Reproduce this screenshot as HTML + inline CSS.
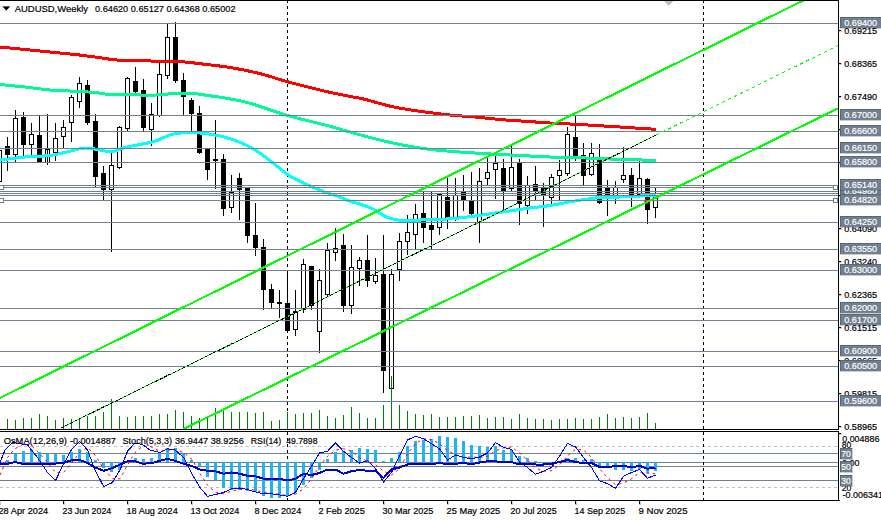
<!DOCTYPE html><html><head><meta charset="utf-8"><title>AUDUSD Weekly</title>
<style>html,body{margin:0;padding:0;background:#fff;}svg{display:block;font-family:"Liberation Sans",sans-serif;}</style></head><body>
<svg width="881" height="522" viewBox="0 0 881 522">
<rect width="881" height="522" fill="#fff"/>
<defs><clipPath id="cm"><rect x="0" y="1" width="838" height="428"/></clipPath><clipPath id="ci"><rect x="0" y="432" width="838" height="68"/></clipPath></defs>
<g clip-path="url(#cm)">
<g shape-rendering="crispEdges" stroke="#000" stroke-width="1" stroke-dasharray="3 3">
<line x1="287.5" y1="0" x2="287.5" y2="429"/>
<line x1="703.5" y1="0" x2="703.5" y2="429"/>
</g>
<g shape-rendering="crispEdges">
<rect x="-1" y="150" width="1" height="32" fill="#000"/>
<rect x="-3" y="150" width="5" height="32" fill="#000"/>
<rect x="-2" y="151" width="3" height="30" fill="#fff"/>
<rect x="7" y="137" width="1" height="34" fill="#000"/>
<rect x="5" y="146" width="5" height="9" fill="#000"/>
<rect x="15" y="110" width="1" height="53" fill="#000"/>
<rect x="13" y="118" width="5" height="37" fill="#000"/>
<rect x="14" y="119" width="3" height="35" fill="#fff"/>
<rect x="23" y="112" width="1" height="45" fill="#000"/>
<rect x="21" y="117" width="5" height="28" fill="#000"/>
<rect x="31" y="123" width="1" height="33" fill="#000"/>
<rect x="29" y="134" width="5" height="11" fill="#000"/>
<rect x="30" y="135" width="3" height="9" fill="#fff"/>
<rect x="39" y="116" width="1" height="47" fill="#000"/>
<rect x="37" y="135" width="5" height="28" fill="#000"/>
<rect x="47" y="114" width="1" height="51" fill="#000"/>
<rect x="45" y="149" width="5" height="14" fill="#000"/>
<rect x="46" y="150" width="3" height="12" fill="#fff"/>
<rect x="47" y="114" width="1" height="51" fill="#000"/>
<rect x="55" y="123" width="1" height="38" fill="#000"/>
<rect x="53" y="138" width="5" height="15" fill="#000"/>
<rect x="54" y="139" width="3" height="13" fill="#fff"/>
<rect x="63" y="120" width="1" height="28" fill="#000"/>
<rect x="61" y="127" width="5" height="10" fill="#000"/>
<rect x="62" y="128" width="3" height="8" fill="#fff"/>
<rect x="71" y="95" width="1" height="47" fill="#000"/>
<rect x="69" y="97" width="5" height="26" fill="#000"/>
<rect x="70" y="98" width="3" height="24" fill="#fff"/>
<rect x="79" y="77" width="1" height="31" fill="#000"/>
<rect x="77" y="83" width="5" height="19" fill="#000"/>
<rect x="78" y="84" width="3" height="17" fill="#fff"/>
<rect x="87" y="80" width="1" height="45" fill="#000"/>
<rect x="85" y="85" width="5" height="38" fill="#000"/>
<rect x="95" y="114" width="1" height="74" fill="#000"/>
<rect x="93" y="121" width="5" height="56" fill="#000"/>
<rect x="103" y="166" width="1" height="35" fill="#000"/>
<rect x="101" y="173" width="5" height="17" fill="#000"/>
<rect x="111" y="152" width="1" height="100" fill="#000"/>
<rect x="109" y="165" width="5" height="25" fill="#000"/>
<rect x="110" y="166" width="3" height="23" fill="#fff"/>
<rect x="119" y="126" width="1" height="43" fill="#000"/>
<rect x="117" y="127" width="5" height="41" fill="#000"/>
<rect x="118" y="128" width="3" height="39" fill="#fff"/>
<rect x="127" y="77" width="1" height="54" fill="#000"/>
<rect x="125" y="78" width="5" height="51" fill="#000"/>
<rect x="126" y="79" width="3" height="49" fill="#fff"/>
<rect x="135" y="67" width="1" height="27" fill="#000"/>
<rect x="133" y="81" width="5" height="11" fill="#000"/>
<rect x="143" y="79" width="1" height="52" fill="#000"/>
<rect x="141" y="90" width="5" height="38" fill="#000"/>
<rect x="151" y="103" width="1" height="43" fill="#000"/>
<rect x="149" y="114" width="5" height="16" fill="#000"/>
<rect x="150" y="115" width="3" height="14" fill="#fff"/>
<rect x="159" y="62" width="1" height="55" fill="#000"/>
<rect x="157" y="74" width="5" height="42" fill="#000"/>
<rect x="158" y="75" width="3" height="40" fill="#fff"/>
<rect x="167" y="24" width="1" height="55" fill="#000"/>
<rect x="165" y="37" width="5" height="39" fill="#000"/>
<rect x="166" y="38" width="3" height="37" fill="#fff"/>
<rect x="175" y="22" width="1" height="61" fill="#000"/>
<rect x="173" y="37" width="5" height="44" fill="#000"/>
<rect x="183" y="73" width="1" height="43" fill="#000"/>
<rect x="181" y="80" width="5" height="17" fill="#000"/>
<rect x="191" y="98" width="1" height="34" fill="#000"/>
<rect x="189" y="100" width="5" height="14" fill="#000"/>
<rect x="199" y="106" width="1" height="48" fill="#000"/>
<rect x="197" y="113" width="5" height="40" fill="#000"/>
<rect x="207" y="149" width="1" height="31" fill="#000"/>
<rect x="205" y="149" width="5" height="21" fill="#000"/>
<rect x="215" y="120" width="1" height="69" fill="#000"/>
<rect x="213" y="159" width="5" height="2" fill="#000"/>
<rect x="223" y="154" width="1" height="62" fill="#000"/>
<rect x="221" y="159" width="5" height="50" fill="#000"/>
<rect x="231" y="175" width="1" height="38" fill="#000"/>
<rect x="229" y="192" width="5" height="16" fill="#000"/>
<rect x="230" y="193" width="3" height="14" fill="#fff"/>
<rect x="239" y="173" width="1" height="47" fill="#000"/>
<rect x="237" y="178" width="5" height="12" fill="#000"/>
<rect x="247" y="188" width="1" height="55" fill="#000"/>
<rect x="245" y="188" width="5" height="48" fill="#000"/>
<rect x="255" y="203" width="1" height="53" fill="#000"/>
<rect x="253" y="235" width="5" height="13" fill="#000"/>
<rect x="263" y="239" width="1" height="71" fill="#000"/>
<rect x="261" y="247" width="5" height="43" fill="#000"/>
<rect x="271" y="284" width="1" height="24" fill="#000"/>
<rect x="269" y="289" width="5" height="14" fill="#000"/>
<rect x="279" y="290" width="1" height="28" fill="#000"/>
<rect x="277" y="302" width="5" height="2" fill="#000"/>
<rect x="287" y="271" width="1" height="62" fill="#000"/>
<rect x="285" y="303" width="5" height="28" fill="#000"/>
<rect x="295" y="290" width="1" height="46" fill="#000"/>
<rect x="293" y="311" width="5" height="19" fill="#000"/>
<rect x="294" y="312" width="3" height="17" fill="#fff"/>
<rect x="303" y="259" width="1" height="54" fill="#000"/>
<rect x="301" y="264" width="5" height="46" fill="#000"/>
<rect x="302" y="265" width="3" height="44" fill="#fff"/>
<rect x="311" y="266" width="1" height="44" fill="#000"/>
<rect x="309" y="266" width="5" height="40" fill="#000"/>
<rect x="319" y="269" width="1" height="84" fill="#000"/>
<rect x="317" y="280" width="5" height="52" fill="#000"/>
<rect x="318" y="281" width="3" height="50" fill="#fff"/>
<rect x="327" y="243" width="1" height="54" fill="#000"/>
<rect x="325" y="250" width="5" height="45" fill="#000"/>
<rect x="326" y="251" width="3" height="43" fill="#fff"/>
<rect x="335" y="228" width="1" height="33" fill="#000"/>
<rect x="333" y="248" width="5" height="5" fill="#000"/>
<rect x="334" y="249" width="3" height="3" fill="#fff"/>
<rect x="343" y="234" width="1" height="78" fill="#000"/>
<rect x="341" y="245" width="5" height="61" fill="#000"/>
<rect x="351" y="245" width="1" height="69" fill="#000"/>
<rect x="349" y="267" width="5" height="39" fill="#000"/>
<rect x="350" y="268" width="3" height="37" fill="#fff"/>
<rect x="359" y="257" width="1" height="29" fill="#000"/>
<rect x="357" y="260" width="5" height="9" fill="#000"/>
<rect x="358" y="261" width="3" height="7" fill="#fff"/>
<rect x="367" y="235" width="1" height="52" fill="#000"/>
<rect x="365" y="260" width="5" height="21" fill="#000"/>
<rect x="375" y="258" width="1" height="26" fill="#000"/>
<rect x="373" y="275" width="5" height="7" fill="#000"/>
<rect x="374" y="276" width="3" height="5" fill="#fff"/>
<rect x="383" y="235" width="1" height="158" fill="#000"/>
<rect x="381" y="274" width="5" height="97" fill="#000"/>
<rect x="391" y="269" width="1" height="124" fill="#000"/>
<rect x="389" y="274" width="5" height="115" fill="#000"/>
<rect x="390" y="275" width="3" height="113" fill="#fff"/>
<rect x="399" y="233" width="1" height="48" fill="#000"/>
<rect x="397" y="241" width="5" height="29" fill="#000"/>
<rect x="398" y="242" width="3" height="27" fill="#fff"/>
<rect x="407" y="215" width="1" height="40" fill="#000"/>
<rect x="405" y="232" width="5" height="10" fill="#000"/>
<rect x="406" y="233" width="3" height="8" fill="#fff"/>
<rect x="415" y="204" width="1" height="46" fill="#000"/>
<rect x="413" y="214" width="5" height="21" fill="#000"/>
<rect x="414" y="215" width="3" height="19" fill="#fff"/>
<rect x="423" y="191" width="1" height="52" fill="#000"/>
<rect x="421" y="213" width="5" height="15" fill="#000"/>
<rect x="431" y="192" width="1" height="58" fill="#000"/>
<rect x="429" y="225" width="5" height="5" fill="#000"/>
<rect x="439" y="194" width="1" height="41" fill="#000"/>
<rect x="437" y="194" width="5" height="34" fill="#000"/>
<rect x="438" y="195" width="3" height="32" fill="#fff"/>
<rect x="447" y="178" width="1" height="51" fill="#000"/>
<rect x="445" y="197" width="5" height="21" fill="#000"/>
<rect x="455" y="178" width="1" height="43" fill="#000"/>
<rect x="453" y="195" width="5" height="23" fill="#000"/>
<rect x="454" y="196" width="3" height="21" fill="#fff"/>
<rect x="463" y="175" width="1" height="36" fill="#000"/>
<rect x="461" y="192" width="5" height="8" fill="#000"/>
<rect x="471" y="172" width="1" height="43" fill="#000"/>
<rect x="469" y="201" width="5" height="13" fill="#000"/>
<rect x="479" y="168" width="1" height="75" fill="#000"/>
<rect x="477" y="181" width="5" height="42" fill="#000"/>
<rect x="478" y="182" width="3" height="40" fill="#fff"/>
<rect x="487" y="158" width="1" height="28" fill="#000"/>
<rect x="485" y="172" width="5" height="7" fill="#000"/>
<rect x="486" y="173" width="3" height="5" fill="#fff"/>
<rect x="495" y="156" width="1" height="43" fill="#000"/>
<rect x="493" y="163" width="5" height="7" fill="#000"/>
<rect x="494" y="164" width="3" height="5" fill="#fff"/>
<rect x="503" y="159" width="1" height="52" fill="#000"/>
<rect x="501" y="168" width="5" height="23" fill="#000"/>
<rect x="511" y="146" width="1" height="46" fill="#000"/>
<rect x="509" y="167" width="5" height="22" fill="#000"/>
<rect x="510" y="168" width="3" height="20" fill="#fff"/>
<rect x="519" y="159" width="1" height="66" fill="#000"/>
<rect x="517" y="163" width="5" height="41" fill="#000"/>
<rect x="527" y="176" width="1" height="38" fill="#000"/>
<rect x="525" y="185" width="5" height="21" fill="#000"/>
<rect x="526" y="186" width="3" height="19" fill="#fff"/>
<rect x="535" y="166" width="1" height="35" fill="#000"/>
<rect x="533" y="184" width="5" height="8" fill="#000"/>
<rect x="543" y="183" width="1" height="44" fill="#000"/>
<rect x="541" y="188" width="5" height="8" fill="#000"/>
<rect x="551" y="174" width="1" height="32" fill="#000"/>
<rect x="549" y="177" width="5" height="21" fill="#000"/>
<rect x="550" y="178" width="3" height="19" fill="#fff"/>
<rect x="559" y="160" width="1" height="41" fill="#000"/>
<rect x="557" y="170" width="5" height="6" fill="#000"/>
<rect x="558" y="171" width="3" height="4" fill="#fff"/>
<rect x="567" y="127" width="1" height="49" fill="#000"/>
<rect x="565" y="134" width="5" height="40" fill="#000"/>
<rect x="566" y="135" width="3" height="38" fill="#fff"/>
<rect x="575" y="115" width="1" height="46" fill="#000"/>
<rect x="573" y="137" width="5" height="19" fill="#000"/>
<rect x="583" y="143" width="1" height="43" fill="#000"/>
<rect x="581" y="155" width="5" height="21" fill="#000"/>
<rect x="591" y="143" width="1" height="33" fill="#000"/>
<rect x="589" y="153" width="5" height="22" fill="#000"/>
<rect x="590" y="154" width="3" height="20" fill="#fff"/>
<rect x="599" y="144" width="1" height="60" fill="#000"/>
<rect x="597" y="160" width="5" height="43" fill="#000"/>
<rect x="607" y="180" width="1" height="36" fill="#000"/>
<rect x="605" y="188" width="5" height="8" fill="#000"/>
<rect x="615" y="181" width="1" height="23" fill="#000"/>
<rect x="613" y="187" width="5" height="9" fill="#000"/>
<rect x="614" y="188" width="3" height="7" fill="#fff"/>
<rect x="623" y="147" width="1" height="36" fill="#000"/>
<rect x="621" y="175" width="5" height="5" fill="#000"/>
<rect x="622" y="176" width="3" height="3" fill="#fff"/>
<rect x="631" y="168" width="1" height="39" fill="#000"/>
<rect x="629" y="175" width="5" height="21" fill="#000"/>
<rect x="639" y="161" width="1" height="36" fill="#000"/>
<rect x="637" y="178" width="5" height="17" fill="#000"/>
<rect x="638" y="179" width="3" height="15" fill="#fff"/>
<rect x="647" y="178" width="1" height="46" fill="#000"/>
<rect x="645" y="179" width="5" height="31" fill="#000"/>
<rect x="655" y="188" width="1" height="30" fill="#000"/>
<rect x="653" y="195" width="5" height="13" fill="#000"/>
<rect x="654" y="196" width="3" height="11" fill="#fff"/>
</g>
<g shape-rendering="crispEdges" fill="#008000">
<rect x="7" y="419" width="1" height="10"/>
<rect x="15" y="420" width="1" height="9"/>
<rect x="23" y="418" width="1" height="11"/>
<rect x="31" y="418" width="1" height="11"/>
<rect x="39" y="414" width="1" height="15"/>
<rect x="47" y="416" width="1" height="13"/>
<rect x="55" y="420" width="1" height="9"/>
<rect x="63" y="418" width="1" height="11"/>
<rect x="71" y="419" width="1" height="10"/>
<rect x="79" y="418" width="1" height="11"/>
<rect x="87" y="416" width="1" height="13"/>
<rect x="95" y="416" width="1" height="13"/>
<rect x="103" y="412" width="1" height="17"/>
<rect x="111" y="399" width="1" height="30"/>
<rect x="119" y="416" width="1" height="13"/>
<rect x="127" y="417" width="1" height="12"/>
<rect x="135" y="416" width="1" height="13"/>
<rect x="143" y="416" width="1" height="13"/>
<rect x="151" y="416" width="1" height="13"/>
<rect x="159" y="414" width="1" height="15"/>
<rect x="167" y="414" width="1" height="15"/>
<rect x="175" y="410" width="1" height="19"/>
<rect x="183" y="412" width="1" height="17"/>
<rect x="191" y="416" width="1" height="13"/>
<rect x="199" y="418" width="1" height="11"/>
<rect x="207" y="418" width="1" height="11"/>
<rect x="215" y="408" width="1" height="21"/>
<rect x="223" y="411" width="1" height="18"/>
<rect x="231" y="412" width="1" height="17"/>
<rect x="239" y="412" width="1" height="17"/>
<rect x="247" y="412" width="1" height="17"/>
<rect x="255" y="413" width="1" height="16"/>
<rect x="263" y="412" width="1" height="17"/>
<rect x="271" y="421" width="1" height="8"/>
<rect x="279" y="420" width="1" height="9"/>
<rect x="287" y="412" width="1" height="17"/>
<rect x="295" y="414" width="1" height="15"/>
<rect x="303" y="413" width="1" height="16"/>
<rect x="311" y="413" width="1" height="16"/>
<rect x="319" y="410" width="1" height="19"/>
<rect x="327" y="416" width="1" height="13"/>
<rect x="335" y="418" width="1" height="11"/>
<rect x="343" y="415" width="1" height="14"/>
<rect x="351" y="407" width="1" height="22"/>
<rect x="359" y="413" width="1" height="16"/>
<rect x="367" y="418" width="1" height="11"/>
<rect x="375" y="418" width="1" height="11"/>
<rect x="383" y="405" width="1" height="24"/>
<rect x="391" y="376" width="1" height="53"/>
<rect x="399" y="405" width="1" height="24"/>
<rect x="407" y="411" width="1" height="18"/>
<rect x="415" y="414" width="1" height="15"/>
<rect x="423" y="415" width="1" height="14"/>
<rect x="431" y="414" width="1" height="15"/>
<rect x="439" y="417" width="1" height="12"/>
<rect x="447" y="417" width="1" height="12"/>
<rect x="455" y="417" width="1" height="12"/>
<rect x="463" y="416" width="1" height="13"/>
<rect x="471" y="416" width="1" height="13"/>
<rect x="479" y="415" width="1" height="14"/>
<rect x="487" y="418" width="1" height="11"/>
<rect x="495" y="417" width="1" height="12"/>
<rect x="503" y="417" width="1" height="12"/>
<rect x="511" y="419" width="1" height="10"/>
<rect x="519" y="414" width="1" height="15"/>
<rect x="527" y="418" width="1" height="11"/>
<rect x="535" y="419" width="1" height="10"/>
<rect x="543" y="419" width="1" height="10"/>
<rect x="551" y="420" width="1" height="9"/>
<rect x="559" y="419" width="1" height="10"/>
<rect x="567" y="419" width="1" height="10"/>
<rect x="575" y="418" width="1" height="11"/>
<rect x="583" y="419" width="1" height="10"/>
<rect x="591" y="419" width="1" height="10"/>
<rect x="599" y="417" width="1" height="12"/>
<rect x="607" y="414" width="1" height="15"/>
<rect x="615" y="418" width="1" height="11"/>
<rect x="623" y="417" width="1" height="12"/>
<rect x="631" y="418" width="1" height="11"/>
<rect x="639" y="417" width="1" height="12"/>
<rect x="647" y="413" width="1" height="16"/>
<rect x="655" y="423" width="1" height="6"/>
</g>
<polyline points="0.00,47.00 2.72,47.27 6.48,47.65 10.94,48.09 15.74,48.57 20.54,49.05 25.00,49.50 29.17,49.92 33.33,50.33 37.50,50.75 41.67,51.17 45.83,51.58 50.00,52.00 54.22,52.42 58.52,52.83 62.81,53.25 67.04,53.67 71.12,54.08 75.00,54.50 78.60,54.91 81.96,55.31 85.19,55.72 88.37,56.13 91.61,56.55 95.00,57.00 98.54,57.50 102.15,58.05 105.81,58.61 109.52,59.15 113.25,59.62 117.00,60.00 120.75,60.26 124.52,60.43 128.31,60.53 132.15,60.60 136.04,60.67 140.00,60.75 144.22,60.85 148.74,60.95 153.31,61.05 157.70,61.13 161.68,61.20 165.00,61.25 167.48,61.26 169.26,61.24 170.62,61.20 171.85,61.18 173.22,61.18 175.00,61.25 177.27,61.39 179.81,61.58 182.50,61.80 185.19,62.04 187.73,62.28 190.00,62.50 191.72,62.67 192.96,62.81 194.06,62.94 195.37,63.11 197.23,63.35 200.00,63.70 203.84,64.16 208.52,64.69 213.75,65.29 219.26,65.97 224.77,66.70 230.00,67.50 235.03,68.36 240.11,69.29 245.19,70.29 250.22,71.34 255.17,72.45 260.00,73.60 264.55,74.80 268.81,76.06 273.00,77.38 277.30,78.74 281.90,80.15 287.00,81.60 292.85,83.16 299.33,84.86 306.12,86.60 312.89,88.31 319.29,89.88 325.00,91.25 330.06,92.40 334.76,93.40 339.09,94.28 343.07,95.06 346.71,95.76 350.00,96.40 352.75,96.93 354.91,97.30 356.72,97.60 358.43,97.89 360.27,98.25 362.50,98.75 365.16,99.41 368.06,100.19 371.09,101.03 374.17,101.90 377.17,102.74 380.00,103.50 382.64,104.20 385.19,104.89 387.66,105.54 390.09,106.16 392.53,106.75 395.00,107.30 397.50,107.80 400.00,108.24 402.50,108.65 405.00,109.04 407.50,109.42 410.00,109.80 412.38,110.17 414.63,110.53 416.88,110.87 419.26,111.22 421.92,111.59 425.00,112.00 428.59,112.47 432.59,112.98 436.88,113.51 441.30,114.04 445.72,114.55 450.00,115.00 454.17,115.39 458.33,115.72 462.50,116.03 466.67,116.33 470.83,116.65 475.00,117.00 479.17,117.40 483.33,117.82 487.50,118.27 491.67,118.70 495.83,119.12 500.00,119.50 504.17,119.84 508.33,120.14 512.50,120.42 516.67,120.69 520.83,120.97 525.00,121.25 529.17,121.55 533.33,121.85 537.50,122.16 541.67,122.45 545.83,122.74 550.00,123.00 554.17,123.23 558.33,123.44 562.50,123.64 566.67,123.83 570.83,124.03 575.00,124.25 579.22,124.49 583.52,124.74 587.81,125.00 592.04,125.26 596.12,125.51 600.00,125.75 603.62,125.97 607.04,126.18 610.31,126.39 613.52,126.59 616.72,126.79 620.00,127.00 623.38,127.22 626.81,127.44 630.25,127.67 633.63,127.89 636.90,128.10 640.00,128.30 643.08,128.50 646.22,128.69 649.25,128.88 652.00,129.05 654.31,129.19 656.00,129.30" fill="none" stroke="#FF0000" stroke-width="3" stroke-linejoin="round" shape-rendering="crispEdges"/>
<polyline points="0.00,84.50 2.72,84.77 6.48,85.13 10.94,85.56 15.74,86.04 20.54,86.53 25.00,87.00 29.17,87.49 33.33,88.03 37.50,88.58 41.67,89.11 45.83,89.60 50.00,90.00 54.22,90.31 58.52,90.55 62.81,90.73 67.04,90.90 71.12,91.06 75.00,91.25 78.68,91.45 82.22,91.64 85.62,91.83 88.89,92.03 92.01,92.25 95.00,92.50 97.73,92.81 100.19,93.19 102.50,93.58 104.81,93.95 107.27,94.27 110.00,94.50 113.04,94.60 116.30,94.61 119.69,94.56 123.15,94.50 126.61,94.47 130.00,94.50 133.45,94.63 137.04,94.83 140.62,95.06 144.07,95.28 147.25,95.44 150.00,95.50 152.19,95.45 153.89,95.31 155.31,95.11 156.67,94.89 158.16,94.68 160.00,94.50 162.15,94.35 164.44,94.20 166.88,94.06 169.44,93.94 172.15,93.83 175.00,93.75 178.14,93.69 181.59,93.63 185.19,93.60 188.74,93.60 192.07,93.65 195.00,93.75 197.39,93.92 199.37,94.14 201.12,94.41 202.85,94.72 204.75,95.05 207.00,95.40 209.57,95.75 212.30,96.10 215.19,96.47 218.26,96.90 221.53,97.40 225.00,98.00 228.62,98.65 232.35,99.31 236.28,100.05 240.48,100.92 245.03,101.99 250.00,103.30 255.53,104.97 261.57,106.96 267.97,109.14 274.54,111.38 281.11,113.54 287.50,115.50 293.89,117.27 300.46,118.96 307.03,120.58 313.43,122.12 319.47,123.59 325.00,125.00 329.89,126.31 334.26,127.53 338.28,128.67 342.13,129.78 345.98,130.88 350.00,132.00 354.17,133.15 358.33,134.31 362.50,135.45 366.67,136.58 370.83,137.69 375.00,138.75 379.17,139.78 383.33,140.80 387.50,141.78 391.67,142.73 395.83,143.64 400.00,144.50 404.17,145.32 408.33,146.09 412.50,146.83 416.67,147.52 420.83,148.16 425.00,148.75 429.17,149.28 433.33,149.74 437.50,150.16 441.67,150.54 445.83,150.90 450.00,151.25 454.17,151.59 458.33,151.90 462.50,152.19 466.67,152.46 470.83,152.73 475.00,153.00 479.17,153.27 483.33,153.53 487.50,153.78 491.67,154.03 495.83,154.27 500.00,154.50 504.17,154.72 508.33,154.94 512.50,155.14 516.67,155.34 520.83,155.54 525.00,155.75 529.17,155.97 533.33,156.19 537.50,156.42 541.67,156.64 545.83,156.84 550.00,157.00 554.17,157.12 558.33,157.19 562.50,157.25 566.67,157.31 570.83,157.38 575.00,157.50 579.22,157.67 583.52,157.89 587.81,158.12 592.04,158.36 596.12,158.58 600.00,158.75 603.44,158.87 606.44,158.94 609.31,159.00 612.33,159.06 615.80,159.13 620.00,159.25 625.49,159.43 632.15,159.66 639.25,159.91 646.07,160.15 651.90,160.36 656.00,160.50" fill="none" stroke="#00FA9A" stroke-width="3" stroke-linejoin="round" shape-rendering="crispEdges"/>
<polyline points="0.00,160.00 2.72,159.66 6.48,159.17 10.94,158.59 15.74,158.00 20.54,157.45 25.00,157.00 29.22,156.70 33.52,156.49 37.81,156.33 42.04,156.15 46.12,155.89 50.00,155.50 53.68,154.94 57.22,154.25 60.62,153.48 63.89,152.69 67.01,151.93 70.00,151.25 72.79,150.59 75.37,149.90 77.81,149.23 80.19,148.66 82.56,148.23 85.00,148.00 87.53,148.03 90.11,148.29 92.69,148.69 95.22,149.16 97.67,149.62 100.00,150.00 102.16,150.38 104.19,150.82 106.12,151.27 108.04,151.62 109.98,151.81 112.00,151.75 114.09,151.37 116.19,150.73 118.31,149.92 120.48,149.05 122.71,148.21 125.00,147.50 127.38,146.93 129.85,146.42 132.38,145.94 134.93,145.47 137.48,145.00 140.00,144.50 142.56,143.98 145.19,143.47 147.81,142.95 150.37,142.42 152.79,141.85 155.00,141.25 156.96,140.59 158.70,139.87 160.31,139.12 161.85,138.38 163.39,137.66 165.00,137.00 166.61,136.38 168.15,135.77 169.69,135.19 171.30,134.65 173.04,134.16 175.00,133.75 177.27,133.41 179.81,133.12 182.50,132.89 185.19,132.71 187.73,132.58 190.00,132.50 191.90,132.46 193.52,132.48 195.00,132.55 196.48,132.66 198.10,132.81 200.00,133.00 202.18,133.22 204.54,133.46 207.03,133.75 209.63,134.09 212.30,134.50 215.00,135.00 217.77,135.57 220.65,136.20 223.59,136.91 226.57,137.69 229.55,138.55 232.50,139.50 235.47,140.57 238.52,141.76 241.56,143.03 244.54,144.35 247.37,145.69 250.00,147.00 252.37,148.29 254.54,149.57 256.56,150.88 258.52,152.20 260.47,153.57 262.50,155.00 264.58,156.49 266.67,158.04 268.75,159.62 270.83,161.24 272.92,162.87 275.00,164.50 277.08,166.18 279.17,167.92 281.25,169.67 283.33,171.39 285.42,173.02 287.50,174.50 289.58,175.82 291.67,177.03 293.75,178.14 295.83,179.19 297.92,180.22 300.00,181.25 302.08,182.27 304.17,183.27 306.25,184.23 308.33,185.18 310.42,186.10 312.50,187.00 314.58,187.89 316.67,188.75 318.75,189.59 320.83,190.42 322.92,191.22 325.00,192.00 327.08,192.74 329.17,193.44 331.25,194.12 333.33,194.81 335.42,195.51 337.50,196.25 339.58,197.05 341.67,197.91 343.75,198.78 345.83,199.65 347.92,200.48 350.00,201.25 352.08,201.93 354.17,202.55 356.25,203.12 358.33,203.70 360.42,204.32 362.50,205.00 364.61,205.75 366.76,206.53 368.91,207.34 371.02,208.19 373.06,209.08 375.00,210.00 376.81,211.00 378.52,212.10 380.16,213.23 381.76,214.34 383.36,215.37 385.00,216.25 386.64,216.99 388.24,217.63 389.84,218.19 391.48,218.68 393.19,219.11 395.00,219.50 396.94,219.85 398.98,220.14 401.09,220.38 403.24,220.56 405.39,220.68 407.50,220.75 409.38,220.75 411.02,220.67 412.66,220.53 414.54,220.36 416.90,220.18 420.00,220.00 424.05,219.84 428.89,219.68 434.22,219.50 439.72,219.30 445.09,219.05 450.00,218.75 454.46,218.39 458.70,217.98 462.81,217.53 466.85,217.04 470.89,216.53 475.00,216.00 479.17,215.44 483.33,214.83 487.50,214.20 491.67,213.56 495.83,212.92 500.00,212.30 504.17,211.69 508.33,211.08 512.50,210.47 516.67,209.87 520.83,209.28 525.00,208.70 529.17,208.16 533.33,207.65 537.50,207.16 541.67,206.65 545.83,206.10 550.00,205.50 554.17,204.81 558.33,204.06 562.50,203.27 566.67,202.47 570.83,201.71 575.00,201.00 579.22,200.32 583.52,199.65 587.81,199.00 592.04,198.41 596.12,197.90 600.00,197.50 603.62,197.25 607.04,197.13 610.31,197.09 613.52,197.09 616.72,197.08 620.00,197.00 623.38,196.86 626.81,196.70 630.25,196.53 633.63,196.35 636.90,196.17 640.00,196.00 643.08,195.82 646.22,195.63 649.25,195.44 652.00,195.26 654.31,195.11 656.00,195.00" fill="none" stroke="#00FFFF" stroke-width="3" stroke-linejoin="round" shape-rendering="crispEdges"/>
<g shape-rendering="crispEdges">
<rect x="0" y="23" width="838" height="1" fill="#708090"/>
<rect x="0" y="115" width="838" height="1" fill="#708090"/>
<rect x="0" y="131" width="838" height="1" fill="#708090"/>
<rect x="0" y="148" width="838" height="1" fill="#708090"/>
<rect x="0" y="162" width="838" height="1" fill="#708090"/>
<rect x="0" y="185" width="838" height="1" fill="#708090"/>
<rect x="0" y="187" width="838" height="1" fill="#708090"/>
<rect x="0" y="191" width="838" height="1" fill="#708090"/>
<rect x="0" y="193" width="838" height="1" fill="#708090"/>
<rect x="0" y="195" width="838" height="1" fill="#708090"/>
<rect x="0" y="200" width="838" height="1" fill="#708090"/>
<rect x="0" y="222" width="838" height="1" fill="#708090"/>
<rect x="0" y="249" width="838" height="1" fill="#708090"/>
<rect x="0" y="270" width="838" height="1" fill="#708090"/>
<rect x="0" y="308" width="838" height="1" fill="#708090"/>
<rect x="0" y="320" width="838" height="1" fill="#708090"/>
<rect x="0" y="351" width="838" height="1" fill="#708090"/>
<rect x="0" y="366" width="838" height="1" fill="#708090"/>
<rect x="0" y="401" width="838" height="1" fill="#708090"/>
<rect x="833.5" y="185.5" width="4" height="4" fill="#fff" stroke="#708090" stroke-width="1"/>
<rect x="-0.5" y="185.5" width="4" height="4" fill="#fff" stroke="#708090" stroke-width="1"/>
<rect x="833.5" y="198.5" width="4" height="4" fill="#fff" stroke="#708090" stroke-width="1"/>
<rect x="-0.5" y="198.5" width="4" height="4" fill="#fff" stroke="#708090" stroke-width="1"/>
</g>
<circle cx="647.5" cy="201.2" r="2.6" fill="none" stroke="#FF0000" stroke-width="1"/>
<line x1="-10" y1="402.949" x2="810" y2="-2.869" stroke="#00FF00" stroke-width="2.1" shape-rendering="crispEdges"/>
<line x1="183" y1="429.267" x2="850" y2="102.57" stroke="#00FF00" stroke-width="2.1" shape-rendering="crispEdges"/>
<line x1="61" y1="427.976" x2="656" y2="135.117" stroke="#00FF00" stroke-width="1" shape-rendering="crispEdges"/>
<line x1="61" y1="427.976" x2="656" y2="135.117" stroke="#000" stroke-width="1" stroke-dasharray="3 2" shape-rendering="crispEdges"/>
<line x1="656" y1="135.117" x2="850" y2="39.63" stroke="#00FF00" stroke-width="1" stroke-dasharray="3.3 3.4" shape-rendering="crispEdges"/>
<polygon points="664,1 673.5,1 668.7,6" fill="#C0C0C0"/>
</g>
<g shape-rendering="crispEdges" fill="#000">
<rect x="0" y="0" width="839" height="1"/>
<rect x="0" y="429" width="839" height="1"/>
<rect x="0" y="431" width="839" height="1"/>
<rect x="0" y="500" width="840" height="1"/>
<rect x="838" y="0" width="1" height="430"/>
<rect x="838" y="431" width="1" height="70"/>
</g>
<g clip-path="url(#ci)">
<g shape-rendering="crispEdges">
<rect x="0" y="453" width="838" height="1" fill="#708090"/>
<rect x="0" y="462" width="838" height="1" fill="#708090"/>
<rect x="0" y="466" width="838" height="1" fill="#708090"/>
<rect x="0" y="480" width="838" height="1" fill="#708090"/>
<line x1="0" y1="446.5" x2="838" y2="446.5" stroke="#C0C0C0" stroke-width="1" stroke-dasharray="3 3"/>
<line x1="0" y1="487.5" x2="838" y2="487.5" stroke="#C0C0C0" stroke-width="1" stroke-dasharray="3 3"/>
<line x1="287.5" y1="432" x2="287.5" y2="501" stroke="#000" stroke-width="1" stroke-dasharray="3 3"/>
<line x1="703.5" y1="432" x2="703.5" y2="501" stroke="#000" stroke-width="1" stroke-dasharray="3 3"/>
<rect x="6" y="460" width="3" height="2" fill="#1CB5F2"/>
<rect x="14" y="454" width="3" height="8" fill="#1CB5F2"/>
<rect x="22" y="451" width="3" height="11" fill="#1CB5F2"/>
<rect x="30" y="450" width="3" height="12" fill="#1CB5F2"/>
<rect x="38" y="452" width="3" height="10" fill="#1CB5F2"/>
<rect x="46" y="454" width="3" height="8" fill="#1CB5F2"/>
<rect x="54" y="454" width="3" height="8" fill="#1CB5F2"/>
<rect x="62" y="455" width="3" height="7" fill="#1CB5F2"/>
<rect x="70" y="452" width="3" height="10" fill="#1CB5F2"/>
<rect x="78" y="449" width="3" height="13" fill="#1CB5F2"/>
<rect x="86" y="452" width="3" height="10" fill="#1CB5F2"/>
<rect x="94" y="460" width="3" height="2" fill="#1CB5F2"/>
<rect x="102" y="462" width="3" height="6" fill="#1CB5F2"/>
<rect x="110" y="462" width="3" height="10" fill="#1CB5F2"/>
<rect x="118" y="462" width="3" height="8" fill="#1CB5F2"/>
<rect x="134" y="458" width="3" height="4" fill="#1CB5F2"/>
<rect x="142" y="459" width="3" height="3" fill="#1CB5F2"/>
<rect x="150" y="458" width="3" height="4" fill="#1CB5F2"/>
<rect x="158" y="454" width="3" height="8" fill="#1CB5F2"/>
<rect x="166" y="448" width="3" height="14" fill="#1CB5F2"/>
<rect x="174" y="448" width="3" height="14" fill="#1CB5F2"/>
<rect x="182" y="454" width="3" height="8" fill="#1CB5F2"/>
<rect x="190" y="460" width="3" height="2" fill="#1CB5F2"/>
<rect x="198" y="462" width="3" height="4" fill="#1CB5F2"/>
<rect x="206" y="462" width="3" height="15" fill="#1CB5F2"/>
<rect x="214" y="462" width="3" height="18" fill="#1CB5F2"/>
<rect x="222" y="462" width="3" height="26" fill="#1CB5F2"/>
<rect x="230" y="462" width="3" height="28" fill="#1CB5F2"/>
<rect x="238" y="462" width="3" height="28" fill="#1CB5F2"/>
<rect x="246" y="462" width="3" height="29" fill="#1CB5F2"/>
<rect x="254" y="462" width="3" height="30" fill="#1CB5F2"/>
<rect x="262" y="462" width="3" height="34" fill="#1CB5F2"/>
<rect x="270" y="462" width="3" height="36" fill="#1CB5F2"/>
<rect x="278" y="462" width="3" height="36" fill="#1CB5F2"/>
<rect x="286" y="462" width="3" height="34" fill="#1CB5F2"/>
<rect x="294" y="462" width="3" height="30" fill="#1CB5F2"/>
<rect x="302" y="462" width="3" height="23" fill="#1CB5F2"/>
<rect x="310" y="462" width="3" height="16" fill="#1CB5F2"/>
<rect x="318" y="462" width="3" height="8" fill="#1CB5F2"/>
<rect x="326" y="459" width="3" height="3" fill="#1CB5F2"/>
<rect x="334" y="452" width="3" height="10" fill="#1CB5F2"/>
<rect x="342" y="451" width="3" height="11" fill="#1CB5F2"/>
<rect x="350" y="450" width="3" height="12" fill="#1CB5F2"/>
<rect x="358" y="448" width="3" height="14" fill="#1CB5F2"/>
<rect x="366" y="449" width="3" height="13" fill="#1CB5F2"/>
<rect x="374" y="450" width="3" height="12" fill="#1CB5F2"/>
<rect x="382" y="461" width="3" height="1" fill="#1CB5F2"/>
<rect x="390" y="458" width="3" height="4" fill="#1CB5F2"/>
<rect x="398" y="452" width="3" height="10" fill="#1CB5F2"/>
<rect x="406" y="446" width="3" height="16" fill="#1CB5F2"/>
<rect x="414" y="441" width="3" height="21" fill="#1CB5F2"/>
<rect x="422" y="440" width="3" height="22" fill="#1CB5F2"/>
<rect x="430" y="439" width="3" height="23" fill="#1CB5F2"/>
<rect x="438" y="436" width="3" height="26" fill="#1CB5F2"/>
<rect x="446" y="437" width="3" height="25" fill="#1CB5F2"/>
<rect x="454" y="438" width="3" height="24" fill="#1CB5F2"/>
<rect x="462" y="441" width="3" height="21" fill="#1CB5F2"/>
<rect x="470" y="445" width="3" height="17" fill="#1CB5F2"/>
<rect x="478" y="446" width="3" height="16" fill="#1CB5F2"/>
<rect x="486" y="447" width="3" height="15" fill="#1CB5F2"/>
<rect x="494" y="446" width="3" height="16" fill="#1CB5F2"/>
<rect x="502" y="450" width="3" height="12" fill="#1CB5F2"/>
<rect x="510" y="450" width="3" height="12" fill="#1CB5F2"/>
<rect x="518" y="456" width="3" height="6" fill="#1CB5F2"/>
<rect x="526" y="458" width="3" height="4" fill="#1CB5F2"/>
<rect x="534" y="461" width="3" height="1" fill="#1CB5F2"/>
<rect x="542" y="462" width="3" height="2" fill="#1CB5F2"/>
<rect x="558" y="461" width="3" height="1" fill="#1CB5F2"/>
<rect x="566" y="458" width="3" height="4" fill="#1CB5F2"/>
<rect x="574" y="458" width="3" height="4" fill="#1CB5F2"/>
<rect x="582" y="460" width="3" height="2" fill="#1CB5F2"/>
<rect x="590" y="459" width="3" height="3" fill="#1CB5F2"/>
<rect x="598" y="462" width="3" height="4" fill="#1CB5F2"/>
<rect x="606" y="462" width="3" height="4" fill="#1CB5F2"/>
<rect x="614" y="462" width="3" height="8" fill="#1CB5F2"/>
<rect x="622" y="462" width="3" height="8" fill="#1CB5F2"/>
<rect x="630" y="462" width="3" height="9" fill="#1CB5F2"/>
<rect x="638" y="462" width="3" height="7" fill="#1CB5F2"/>
<rect x="646" y="462" width="3" height="11" fill="#1CB5F2"/>
<rect x="654" y="462" width="3" height="9" fill="#1CB5F2"/>
</g>
<polyline points="0.00,475.00 7.50,457.50 15.00,448.75 22.50,444.50 30.00,444.50 37.50,451.25 47.50,462.50 55.50,472.50 63.50,472.50 71.25,463.75 79.50,452.50 87.50,447.50 95.00,455.00 103.75,468.75 112.50,478.75 120.00,478.75 127.50,465.00 135.00,452.50 142.50,446.25 150.00,446.25 160.00,451.25 167.50,450.00 175.00,450.00 183.75,452.50 192.50,460.00 200.00,473.75 207.50,485.00 215.50,492.50 223.50,493.75 231.50,491.25 239.50,489.50 247.50,488.75 255.50,490.50 263.50,492.00 271.50,493.00 279.50,494.25 287.50,495.75 295.50,494.25 303.50,488.75 311.50,478.75 319.50,466.25 327.50,456.25 335.50,450.00 343.50,448.75 351.50,451.25 359.50,457.50 367.50,461.25 375.50,464.50 383.50,471.25 391.50,475.00 399.50,468.75 407.50,453.75 415.50,443.75 423.50,438.75 431.50,439.50 439.50,443.75 447.50,450.75 455.50,454.50 463.50,457.50 471.50,457.00 479.50,457.50 487.50,456.25 495.50,450.75 503.50,448.00 511.50,447.00 519.50,453.00 527.50,460.00 535.50,468.00 543.50,471.25 551.50,470.75 559.50,465.00 567.50,455.75 575.50,449.25 583.50,450.00 591.50,457.50 599.50,468.75 607.50,478.00 615.50,484.50 623.50,483.00 631.50,478.75 639.50,472.50 647.50,473.25 655.50,473.75" fill="none" stroke="#FF0000" stroke-width="1" stroke-dasharray="2.6 3.6"/>
<polyline points="0.00,462.50 5.00,450.00 12.50,442.50 20.00,443.75 27.50,445.00 37.50,457.50 47.50,472.50 55.50,480.50 62.50,466.25 71.25,450.00 79.50,441.25 87.50,450.00 95.00,470.00 103.75,486.75 112.50,482.50 120.00,470.00 127.50,451.25 135.00,443.00 142.50,444.50 150.00,450.00 160.00,452.50 167.50,448.75 175.00,450.00 183.75,457.50 192.50,475.00 200.00,487.50 207.50,496.25 215.50,494.50 223.50,492.50 231.50,488.75 239.50,488.00 247.50,489.50 255.50,492.00 263.50,493.75 271.50,493.75 279.50,495.00 287.50,496.25 295.50,492.50 303.50,478.75 311.50,466.25 319.50,453.00 327.50,451.25 335.50,443.00 343.50,451.25 351.50,457.50 359.50,463.00 367.50,460.75 375.50,468.75 383.50,482.00 391.50,472.50 399.50,456.25 407.50,440.00 415.50,436.25 423.50,438.75 431.50,443.75 439.50,448.75 447.50,460.00 455.50,455.00 463.50,457.50 471.50,458.75 479.50,457.00 487.50,453.00 495.50,442.50 503.50,447.50 511.50,449.25 519.50,462.00 527.50,467.50 535.50,474.25 543.50,471.25 551.50,467.50 559.50,456.25 567.50,443.25 575.50,447.00 583.50,457.50 591.50,467.50 599.50,480.75 607.50,483.75 615.50,488.25 623.50,476.25 631.50,472.50 639.50,469.50 647.50,478.25 655.50,475.00" fill="none" stroke="#0000FF" stroke-width="1" shape-rendering="crispEdges"/>
<polyline points="0.00,464.25 7.50,463.75 15.00,462.00 22.50,463.75 32.50,464.50 47.50,464.25 62.50,463.00 72.50,460.00 80.00,460.00 87.50,463.00 95.00,467.50 103.75,470.75 112.50,468.00 120.00,464.50 127.50,461.25 135.00,461.25 142.50,463.75 152.50,463.00 160.00,460.75 167.50,458.75 175.00,460.75 183.75,463.75 192.50,466.25 200.00,469.50 207.50,470.75 215.50,471.25 223.50,473.75 231.50,472.50 239.50,473.75 247.50,475.75 255.50,476.25 263.50,478.75 271.50,478.75 279.50,478.75 287.50,480.50 295.50,478.75 303.50,473.75 311.50,475.00 319.50,473.00 327.50,469.50 335.50,469.50 343.50,473.75 351.50,471.25 359.50,470.00 367.50,470.75 375.50,470.75 383.50,478.00 391.50,469.50 399.50,467.50 407.50,464.50 415.50,464.25 423.50,464.25 431.50,464.25 439.50,463.00 447.50,464.25 455.50,463.75 463.50,463.00 471.50,464.25 479.50,462.50 487.50,461.25 495.50,461.25 503.50,462.50 511.50,462.00 519.50,464.50 527.50,463.75 535.50,464.50 543.50,464.50 551.50,463.75 559.50,462.00 567.50,460.00 575.50,462.00 583.50,463.25 591.50,463.00 599.50,467.00 607.50,467.50 615.50,465.75 623.50,465.75 631.50,467.50 639.50,465.75 647.50,468.75 655.50,467.50" fill="none" stroke="#0000CD" stroke-width="2" stroke-linejoin="round" shape-rendering="crispEdges"/>
</g>
<g font-size="9.5px" fill="#000" stroke="#000" stroke-width="0.2">
<polygon points="2.5,6.5 10,6.5 6.25,10.5" fill="#000"/>
<text x="14.7" y="12" textLength="73.3" lengthAdjust="spacingAndGlyphs">AUDUSD,Weekly</text>
<text x="95" y="12" textLength="140.5" lengthAdjust="spacingAndGlyphs">0.64620 0.65127 0.64368 0.65002</text>
<text x="3.7" y="443.7" textLength="63.3" lengthAdjust="spacingAndGlyphs">OsMA(12,26,9)</text>
<text x="70" y="443.7" textLength="45.7" lengthAdjust="spacingAndGlyphs">-0.0014887</text>
<text x="122.5" y="443.7" textLength="49.5" lengthAdjust="spacingAndGlyphs">Stoch(5,3,3)</text>
<text x="175" y="443.7" textLength="68.75" lengthAdjust="spacingAndGlyphs">36.9447 38.9256</text>
<text x="250.7" y="443.7" textLength="30.5" lengthAdjust="spacingAndGlyphs">RSI(14)</text>
<text x="286.2" y="443.7" textLength="31.3" lengthAdjust="spacingAndGlyphs">49.7898</text>
<rect x="839" y="30" width="2" height="1" fill="#000" shape-rendering="crispEdges"/>
<text x="844.3" y="33.7" textLength="32.8" lengthAdjust="spacingAndGlyphs">0.69215</text>
<rect x="839" y="63" width="2" height="1" fill="#000" shape-rendering="crispEdges"/>
<text x="844.3" y="66.7" textLength="32.8" lengthAdjust="spacingAndGlyphs">0.68365</text>
<rect x="839" y="96" width="2" height="1" fill="#000" shape-rendering="crispEdges"/>
<text x="844.3" y="99.7" textLength="32.8" lengthAdjust="spacingAndGlyphs">0.67490</text>
<rect x="839" y="129" width="2" height="1" fill="#000" shape-rendering="crispEdges"/>
<text x="844.3" y="132.7" textLength="32.8" lengthAdjust="spacingAndGlyphs">0.66640</text>
<rect x="839" y="162" width="2" height="1" fill="#000" shape-rendering="crispEdges"/>
<text x="844.3" y="165.7" textLength="32.8" lengthAdjust="spacingAndGlyphs">0.65790</text>
<rect x="839" y="195" width="2" height="1" fill="#000" shape-rendering="crispEdges"/>
<text x="844.3" y="198.7" textLength="32.8" lengthAdjust="spacingAndGlyphs">0.64940</text>
<rect x="839" y="228" width="2" height="1" fill="#000" shape-rendering="crispEdges"/>
<text x="844.3" y="231.7" textLength="32.8" lengthAdjust="spacingAndGlyphs">0.64090</text>
<rect x="839" y="261" width="2" height="1" fill="#000" shape-rendering="crispEdges"/>
<text x="844.3" y="264.7" textLength="32.8" lengthAdjust="spacingAndGlyphs">0.63240</text>
<rect x="839" y="294" width="2" height="1" fill="#000" shape-rendering="crispEdges"/>
<text x="844.3" y="297.7" textLength="32.8" lengthAdjust="spacingAndGlyphs">0.62365</text>
<rect x="839" y="327" width="2" height="1" fill="#000" shape-rendering="crispEdges"/>
<text x="844.3" y="330.7" textLength="32.8" lengthAdjust="spacingAndGlyphs">0.61515</text>
<rect x="839" y="360" width="2" height="1" fill="#000" shape-rendering="crispEdges"/>
<text x="844.3" y="363.7" textLength="32.8" lengthAdjust="spacingAndGlyphs">0.60665</text>
<rect x="839" y="393" width="2" height="1" fill="#000" shape-rendering="crispEdges"/>
<text x="844.3" y="396.7" textLength="32.8" lengthAdjust="spacingAndGlyphs">0.59815</text>
<rect x="839" y="426" width="2" height="1" fill="#000" shape-rendering="crispEdges"/>
<text x="844.3" y="429.7" textLength="32.8" lengthAdjust="spacingAndGlyphs">0.58965</text>
<rect x="840" y="17" width="41" height="11" fill="#708090" shape-rendering="crispEdges"/>
<text x="844.3" y="25.7" fill="#fff" stroke="#fff" textLength="32.8" lengthAdjust="spacingAndGlyphs">0.69400</text>
<rect x="840" y="109" width="41" height="11" fill="#708090" shape-rendering="crispEdges"/>
<text x="844.3" y="117.7" fill="#fff" stroke="#fff" textLength="32.8" lengthAdjust="spacingAndGlyphs">0.67000</text>
<rect x="840" y="125" width="41" height="11" fill="#708090" shape-rendering="crispEdges"/>
<text x="844.3" y="133.7" fill="#fff" stroke="#fff" textLength="32.8" lengthAdjust="spacingAndGlyphs">0.66600</text>
<rect x="840" y="142" width="41" height="11" fill="#708090" shape-rendering="crispEdges"/>
<text x="844.3" y="150.7" fill="#fff" stroke="#fff" textLength="32.8" lengthAdjust="spacingAndGlyphs">0.66150</text>
<rect x="840" y="156" width="41" height="11" fill="#708090" shape-rendering="crispEdges"/>
<text x="844.3" y="164.7" fill="#fff" stroke="#fff" textLength="32.8" lengthAdjust="spacingAndGlyphs">0.65800</text>
<rect x="840" y="185" width="41" height="11" fill="#708090" shape-rendering="crispEdges"/>
<text x="844.3" y="193.7" fill="#fff" stroke="#fff" textLength="32.8" lengthAdjust="spacingAndGlyphs">0.64980</text>
<rect x="840" y="179" width="41" height="11" fill="#708090" shape-rendering="crispEdges"/>
<text x="844.3" y="187.7" fill="#fff" stroke="#fff" textLength="32.8" lengthAdjust="spacingAndGlyphs">0.65140</text>
<rect x="840" y="194" width="41" height="11" fill="#708090" shape-rendering="crispEdges"/>
<text x="844.3" y="202.7" fill="#fff" stroke="#fff" textLength="32.8" lengthAdjust="spacingAndGlyphs">0.64820</text>
<rect x="840" y="216" width="41" height="11" fill="#708090" shape-rendering="crispEdges"/>
<text x="844.3" y="224.7" fill="#fff" stroke="#fff" textLength="32.8" lengthAdjust="spacingAndGlyphs">0.64250</text>
<rect x="840" y="243" width="41" height="11" fill="#708090" shape-rendering="crispEdges"/>
<text x="844.3" y="251.7" fill="#fff" stroke="#fff" textLength="32.8" lengthAdjust="spacingAndGlyphs">0.63550</text>
<rect x="840" y="264" width="41" height="11" fill="#708090" shape-rendering="crispEdges"/>
<text x="844.3" y="272.7" fill="#fff" stroke="#fff" textLength="32.8" lengthAdjust="spacingAndGlyphs">0.63000</text>
<rect x="840" y="302" width="41" height="11" fill="#708090" shape-rendering="crispEdges"/>
<text x="844.3" y="310.7" fill="#fff" stroke="#fff" textLength="32.8" lengthAdjust="spacingAndGlyphs">0.62000</text>
<rect x="840" y="314" width="41" height="11" fill="#708090" shape-rendering="crispEdges"/>
<text x="844.3" y="322.7" fill="#fff" stroke="#fff" textLength="32.8" lengthAdjust="spacingAndGlyphs">0.61700</text>
<rect x="840" y="345" width="41" height="11" fill="#708090" shape-rendering="crispEdges"/>
<text x="844.3" y="353.7" fill="#fff" stroke="#fff" textLength="32.8" lengthAdjust="spacingAndGlyphs">0.60900</text>
<rect x="840" y="360" width="41" height="11" fill="#708090" shape-rendering="crispEdges"/>
<text x="844.3" y="368.7" fill="#fff" stroke="#fff" textLength="32.8" lengthAdjust="spacingAndGlyphs">0.60500</text>
<rect x="840" y="395" width="41" height="11" fill="#708090" shape-rendering="crispEdges"/>
<text x="844.3" y="403.7" fill="#fff" stroke="#fff" textLength="32.8" lengthAdjust="spacingAndGlyphs">0.59600</text>
<rect x="839" y="433" width="2" height="1" fill="#000" shape-rendering="crispEdges"/>
<text x="842.2" y="441.8" textLength="37.2" lengthAdjust="spacingAndGlyphs">0.004886</text>
<text x="841.8" y="448.3" textLength="9.6" lengthAdjust="spacingAndGlyphs">80</text>
<text x="842" y="465.5" textLength="17.5" lengthAdjust="spacingAndGlyphs">0.00</text>
<text x="841.8" y="490.5" textLength="9.6" lengthAdjust="spacingAndGlyphs">20</text>
<text x="842.4" y="497.6" textLength="40.5" lengthAdjust="spacingAndGlyphs">-0.006341</text>
<rect x="840" y="448" width="12" height="11" fill="#708090" shape-rendering="crispEdges"/>
<text x="841.3" y="456.7" fill="#fff" stroke="#fff" textLength="9.6" lengthAdjust="spacingAndGlyphs">70</text>
<rect x="840" y="461" width="12" height="11" fill="#708090" shape-rendering="crispEdges"/>
<text x="841.3" y="469.7" fill="#fff" stroke="#fff" textLength="9.6" lengthAdjust="spacingAndGlyphs">50</text>
<rect x="840" y="475" width="12" height="11" fill="#708090" shape-rendering="crispEdges"/>
<text x="841.3" y="483.7" fill="#fff" stroke="#fff" textLength="9.6" lengthAdjust="spacingAndGlyphs">30</text>
<rect x="-1" y="501" width="1" height="3" fill="#000" shape-rendering="crispEdges"/>
<text x="-1.5" y="514" textLength="49.7" lengthAdjust="spacingAndGlyphs">28 Apr 2024</text>
<rect x="63" y="501" width="1" height="3" fill="#000" shape-rendering="crispEdges"/>
<text x="62.5" y="514" textLength="48.75" lengthAdjust="spacingAndGlyphs">23 Jun 2024</text>
<rect x="127" y="501" width="1" height="3" fill="#000" shape-rendering="crispEdges"/>
<text x="126.5" y="514" textLength="51.25" lengthAdjust="spacingAndGlyphs">18 Aug 2024</text>
<rect x="191" y="501" width="1" height="3" fill="#000" shape-rendering="crispEdges"/>
<text x="190.5" y="514" textLength="48.75" lengthAdjust="spacingAndGlyphs">13 Oct 2024</text>
<rect x="255" y="501" width="1" height="3" fill="#000" shape-rendering="crispEdges"/>
<text x="254.5" y="514" textLength="46.75" lengthAdjust="spacingAndGlyphs">8 Dec 2024</text>
<rect x="319" y="501" width="1" height="3" fill="#000" shape-rendering="crispEdges"/>
<text x="318.5" y="514" textLength="46.25" lengthAdjust="spacingAndGlyphs">2 Feb 2025</text>
<rect x="383" y="501" width="1" height="3" fill="#000" shape-rendering="crispEdges"/>
<text x="382.5" y="514" textLength="50.75" lengthAdjust="spacingAndGlyphs">30 Mar 2025</text>
<rect x="447" y="501" width="1" height="3" fill="#000" shape-rendering="crispEdges"/>
<text x="446.5" y="514" textLength="53.75" lengthAdjust="spacingAndGlyphs">25 May 2025</text>
<rect x="511" y="501" width="1" height="3" fill="#000" shape-rendering="crispEdges"/>
<text x="510.5" y="514" textLength="46.25" lengthAdjust="spacingAndGlyphs">20 Jul 2025</text>
<rect x="575" y="501" width="1" height="3" fill="#000" shape-rendering="crispEdges"/>
<text x="574.5" y="514" textLength="50.75" lengthAdjust="spacingAndGlyphs">14 Sep 2025</text>
<rect x="639" y="501" width="1" height="3" fill="#000" shape-rendering="crispEdges"/>
<text x="638.5" y="514" textLength="49" lengthAdjust="spacingAndGlyphs">9 Nov 2025</text>
</g>
</svg></body></html>
